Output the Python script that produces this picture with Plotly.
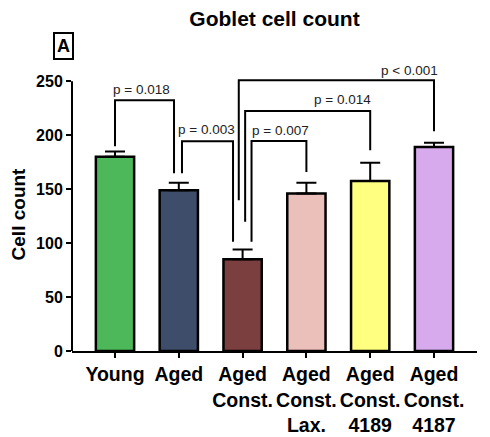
import plotly.graph_objects as go

categories = ["Young", "Aged", "Aged<br>Const.", "Aged<br>Const.<br>Lax.", "Aged<br>Const.<br>4189", "Aged<br>Const.<br>4187"]
means = [180, 149, 85, 146, 157.5, 189]
sem = [5, 7, 9, 10, 17, 4]
colors = ["#4CB85A", "#3D4D6A", "#7B3F3F", "#EBBFBA", "#FFFF80", "#D6AAEC"]

# brackets: left x, right x, top y, left-leg bottom y, right-leg bottom y
br_left = [0.0, 1.05, 2.14, 2.04, 1.94]
br_right = [0.925, 1.85, 3.0, 4.0, 5.0]
br_top = [232.4, 194.4, 194.7, 222.5, 251.0]
br_lbot = [189.8, 164.8, 101.2, 119.7, 139.8]
br_rbot = [164.8, 101.2, 166.0, 186.0, 203.7]
p_labels = ["p = 0.018", "p = 0.003", "p = 0.007", "p = 0.014", "p < 0.001"]
p_label_x = [0.41, 1.44, 2.6, 3.57, 4.61]
p_label_y = [242, 205, 204, 233, 251]
p_label_shift = [0, 0, 0, 0, 10]

yticks = [0, 50, 100, 150, 200, 250]

FONT = "Arial, Liberation Sans, sans-serif"
xs = list(range(len(categories)))

fig = go.Figure()
fig.add_trace(go.Bar(
    x=xs, y=means, width=0.6,
    marker=dict(color=colors, line=dict(color="black", width=2.5)),
    error_y=dict(type="data", array=sem, arrayminus=[0] * len(sem), symmetric=False,
                 width=10, thickness=2, color="black"),
    showlegend=False,
))

shapes = []
for xl, xr, yt, yl, yr in zip(br_left, br_right, br_top, br_lbot, br_rbot):
    shapes.append(dict(type="path", xref="x", yref="y",
                       path=f"M {xl},{yl} L {xl},{yt} L {xr},{yt} L {xr},{yr}",
                       line=dict(color="black", width=2)))
# y axis line from 0 to 250
shapes.append(dict(type="line", xref="x domain", yref="y", x0=0, x1=0,
                   y0=yticks[0], y1=yticks[-1], line=dict(color="black", width=2)))

annotations = []
for t, x, y, s in zip(p_labels, p_label_x, p_label_y, p_label_shift):
    annotations.append(dict(text=t, x=x, y=y, yshift=s, xref="x", yref="y", showarrow=False,
                            font=dict(family=FONT, size=13.5, color="#222")))
annotations.append(dict(text="<b>A</b>", x=-0.022, y=1.117, xref="paper", yref="paper",
                        xanchor="center", yanchor="middle",
                        showarrow=False, bordercolor="black", borderwidth=2, borderpad=2,
                        font=dict(family=FONT, size=18, color="black")))

fig.update_layout(
    width=490, height=437,
    margin=dict(l=72, r=13, t=78, b=86),
    plot_bgcolor="white", paper_bgcolor="white",
    title=dict(text="<b>Goblet cell count</b>", x=0.5, xref="paper", y=1 - 19 / 437,
               yanchor="middle", xanchor="center",
               font=dict(family=FONT, size=21, color="black")),
    shapes=shapes, annotations=annotations,
    bargap=0.4,
)
fig.update_xaxes(
    range=[-0.674, 5.674], tickvals=xs, ticktext=[f"<b>{c}</b>" for c in categories],
    showline=True, linecolor="black", linewidth=2, ticks="outside", ticklen=5,
    tickwidth=2, tickcolor="black", showgrid=False, zeroline=False, automargin=False,
    tickfont=dict(family=FONT, size=19.5, color="black"),
)
fig.update_yaxes(
    range=[0, 253], tickvals=yticks, ticktext=[f"<b>{v}</b>" for v in yticks],
    showline=False, ticks="outside", ticklen=5, tickwidth=2, tickcolor="black",
    showgrid=False, zeroline=False, automargin=False,
    tickfont=dict(family=FONT, size=16, color="black"),
    title=dict(text="<b>Cell count</b>", font=dict(family=FONT, size=19, color="black"),
               standoff=5),
)

fig.write_html("out.html")
